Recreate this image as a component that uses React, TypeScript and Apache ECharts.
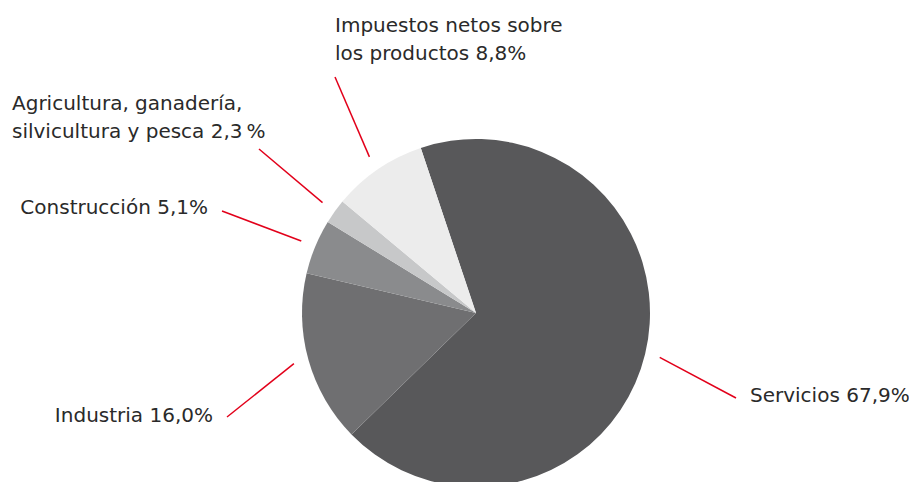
import React, { useEffect, useRef } from "react";
import * as echarts from "echarts";

// Data (clockwise order starting at the top)
const categories: string[] = [
  "Servicios",
  "Industria",
  "Construcción",
  "Agricultura, ganadería,\nsilvicultura y pesca",
  "Impuestos netos sobre\nlos productos",
];
const shares: number[] = [67.9, 16.0, 5.1, 2.3, 8.8];
const percentSeparators: string[] = ["", "", "", "\u202F", ""];
const sliceColors: string[] = ["#58585a", "#6f6f71", "#8a8b8d", "#c7c8c9", "#ececec"];

// Label placement (annotation layout)
const labelPlacement = [
  { x: 750, y: 395, align: "left", end: [736, 398] },
  { x: 213, y: 415, align: "right", end: [227, 417] },
  { x: 208, y: 206.5, align: "right", end: [222, 211] },
  { x: 12, y: 116.5, align: "left", end: [259, 149] },
  { x: 335, y: 38.5, align: "left", end: [335, 77] },
];

export default function App() {
  const ref = useRef<HTMLDivElement>(null);

  useEffect(() => {
    document.body.style.margin = "0";
    if (!ref.current) return;
    const chart = echarts.init(ref.current, null, { renderer: "svg" });
    const data = categories.map((name, i) => ({
      name,
      value: shares[i],
      itemStyle: { color: sliceColors[i] },
    }));
    chart.setOption({
      animation: false,
      backgroundColor: "#ffffff",
      series: [
        {
          type: "pie",
          center: [476, 313],
          radius: 174,
          startAngle: 108.5,
          clockwise: true,
          avoidLabelOverlap: false,
          silent: true,
          itemStyle: { borderWidth: 0 },
          data,
          label: {
            show: true,
            position: "outside",
            fontFamily: "DejaVu Sans",
            fontSize: 20,
            lineHeight: 28,
            color: "#2a2a2a",
            formatter: (p: any) =>
              `${p.name} ${shares[p.dataIndex].toFixed(1).replace(".", ",")}${percentSeparators[p.dataIndex]}%`,
          },
          labelLine: {
            show: true,
            length: 15,
            length2: 10,
            smooth: false,
            lineStyle: { color: "#e2001a", width: 1.5 },
          },
          labelLayout: (params: any) => {
            const pl = labelPlacement[params.dataIndex];
            const pts = params.labelLinePoints;
            const start = pts && pts.length > 1 ? pts[1] : pl.end;
            return {
              x: pl.x,
              y: pl.y,
              align: pl.align,
              verticalAlign: "middle",
              labelLinePoints: [start, pl.end],
            };
          },
        },
      ],
    });
    return () => chart.dispose();
  }, []);

  return <div ref={ref} style={{ width: 909, height: 482, overflow: "hidden" }} />;
}
